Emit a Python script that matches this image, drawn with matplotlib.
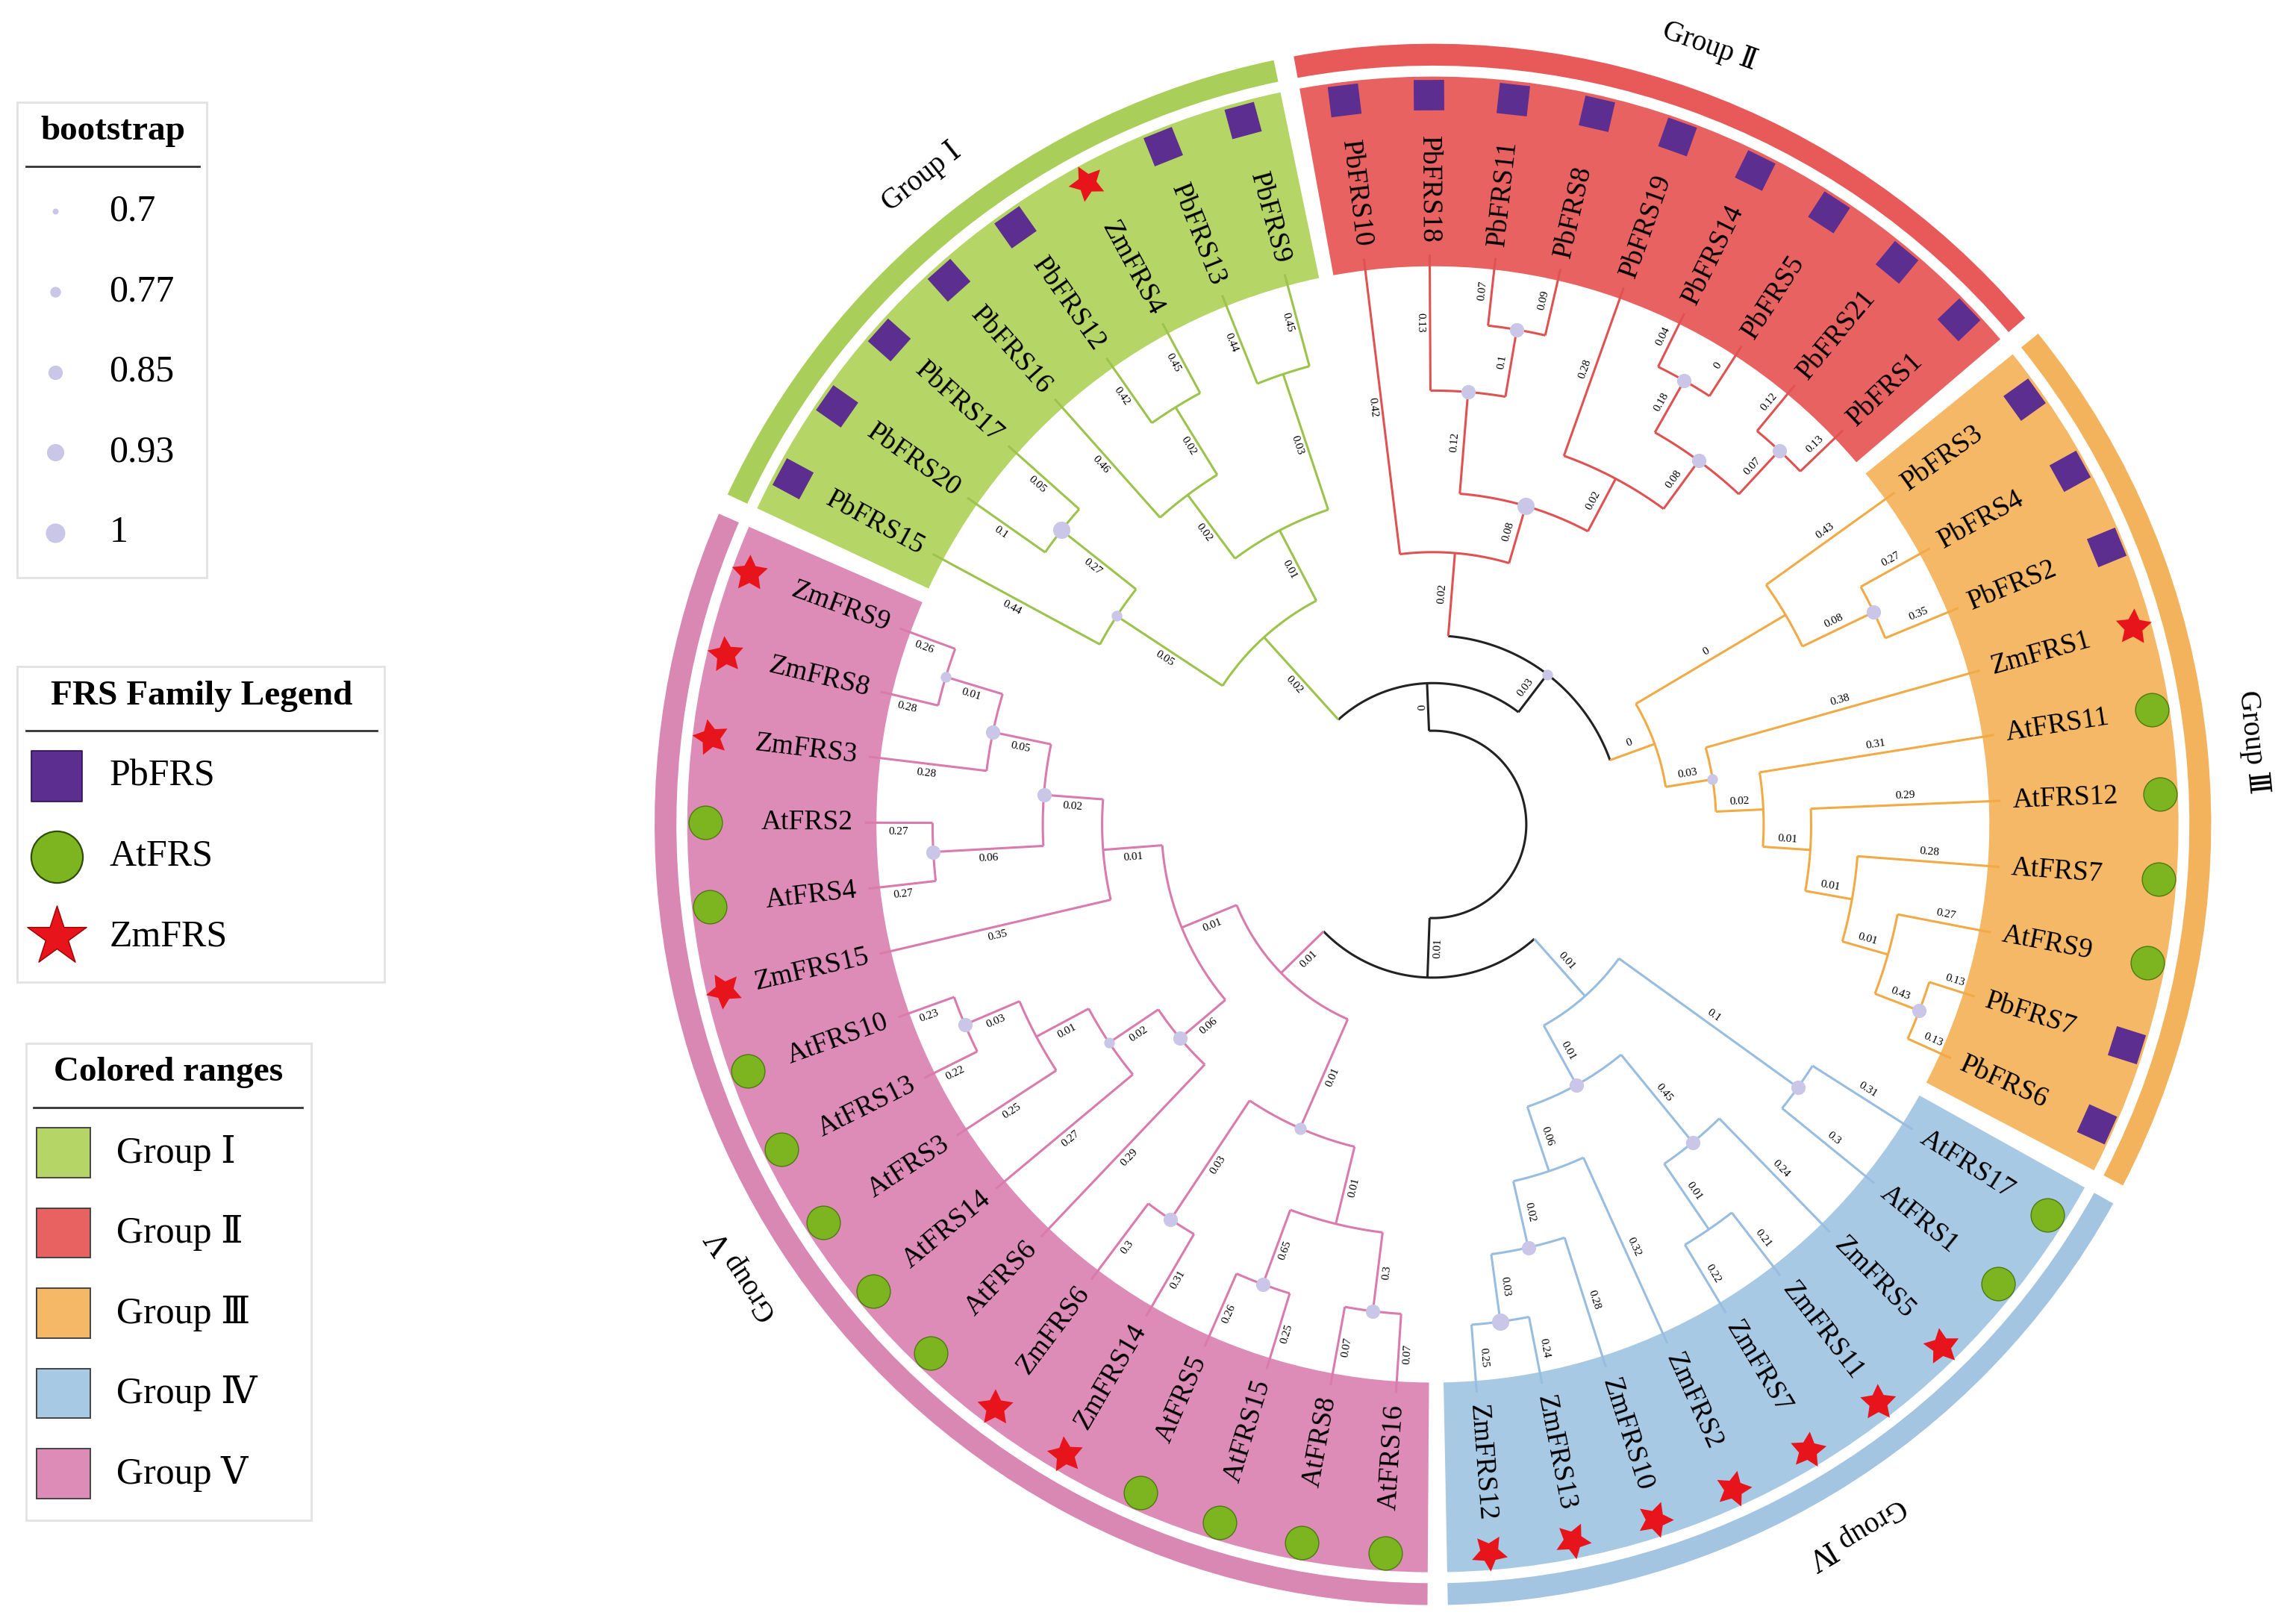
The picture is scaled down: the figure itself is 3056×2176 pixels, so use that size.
import numpy as np
import matplotlib
matplotlib.use('Agg')
import matplotlib.pyplot as plt
from matplotlib.patches import Rectangle, Wedge

SERIF = ['Liberation Serif', 'DejaVu Serif']
plt.rcParams['font.family'] = SERIF

# ---------------- data ----------------
group_names = ['Group Ⅰ', 'Group Ⅱ', 'Group Ⅲ', 'Group Ⅳ', 'Group Ⅴ']
group_leaves = [
    ['PbFRS15', 'PbFRS20', 'PbFRS17', 'PbFRS16', 'PbFRS12', 'ZmFRS4', 'PbFRS13', 'PbFRS9'],
    ['PbFRS10', 'PbFRS18', 'PbFRS11', 'PbFRS8', 'PbFRS19', 'PbFRS14', 'PbFRS5', 'PbFRS21', 'PbFRS1'],
    ['PbFRS3', 'PbFRS4', 'PbFRS2', 'ZmFRS1', 'AtFRS11', 'AtFRS12', 'AtFRS7', 'AtFRS9', 'PbFRS7', 'PbFRS6'],
    ['AtFRS17', 'AtFRS1', 'ZmFRS5', 'ZmFRS11', 'ZmFRS7', 'ZmFRS2', 'ZmFRS10', 'ZmFRS13', 'ZmFRS12'],
    ['AtFRS16', 'AtFRS8', 'AtFRS15', 'AtFRS5', 'ZmFRS14', 'ZmFRS6', 'AtFRS6', 'AtFRS14',
     'AtFRS3', 'AtFRS13', 'AtFRS10', 'ZmFRS15', 'AtFRS4', 'AtFRS2', 'ZmFRS3', 'ZmFRS8', 'ZmFRS9'],
]

sector_colors = ['#b5d566', '#e96262', '#f5b866', '#a8c9e4', '#dd8cb8']
ring_colors = ['#a9cf5a', '#e85a5a', '#f3b25c', '#a3c5e2', '#d987b3']
line_colors = {0: '#9cc34c', 1: '#e05252', 2: '#f1aa45', 3: '#98bde0', 4: '#d97bad', None: '#222222'}

# tree: leaf = (name, branch label); internal = ([children], branch label, bootstrap)
GI = ([([('PbFRS15', .44), ([('PbFRS20', .1), ('PbFRS17', .05)], .27, 0.93)], .05, 0.77),
       ([([('PbFRS16', .46), ([('PbFRS12', .42), ('ZmFRS4', .45)], .02, None)], .02, None),
         ([('PbFRS13', .44), ('PbFRS9', .45)], .03, None)], .01, None)], .02, None)
GII = ([('PbFRS10', .42),
        ([([('PbFRS18', .13), ([('PbFRS11', .07), ('PbFRS8', .09)], .1, 0.85)], .12, 0.85),
          ([('PbFRS19', .28),
            ([([('PbFRS14', .04), ('PbFRS5', 0)], .18, 0.85),
              ([('PbFRS21', .12), ('PbFRS1', .13)], .07, 0.85)], .08, 0.85)], .02, None)], .08, 0.93)],
       .02, None)
GIII = ([([('PbFRS3', .43), ([('PbFRS4', .27), ('PbFRS2', .35)], .08, 0.85)], .0, None),
         ([('ZmFRS1', .38),
           ([('AtFRS11', .31),
             ([('AtFRS12', .29),
               ([('AtFRS7', .28),
                 ([('AtFRS9', .27), ([('PbFRS7', .13), ('PbFRS6', .13)], .43, 0.85)], .01, None)],
                .01, None)], .01, None)], .02, None)], .03, 0.77)], .0, None)
GIV = ([([('AtFRS17', .31), ('AtFRS1', .3)], .1, 0.85),
        ([([('ZmFRS5', .24), ([('ZmFRS11', .21), ('ZmFRS7', .22)], .01, None)], .45, 0.85),
          ([('ZmFRS2', .32), ([('ZmFRS10', .28), ([('ZmFRS13', .24), ('ZmFRS12', .25)], .03, 0.93)],
                               .02, 0.85)], .06, None)], .01, 0.85)], .01, None)
V_up = ([([([([('ZmFRS9', .26), ('ZmFRS8', .28)], .01, 0.77), ('ZmFRS3', .28)], .05, 0.85),
           ([('AtFRS2', .27), ('AtFRS4', .27)], .06, 0.85)], .02, 0.85), ('ZmFRS15', .35)], .01, None)
V_mid = ([([([([('AtFRS10', .23), ('AtFRS13', .22)], .03, 0.85), ('AtFRS3', .25)], .01, None),
            ('AtFRS14', .27)], .02, 0.77), ('AtFRS6', .29)], .06, 0.85)
V_low = ([([('ZmFRS6', .3), ('ZmFRS14', .31)], .03, 0.85),
          ([([('AtFRS5', .26), ('AtFRS15', .25)], .65, 0.85),
            ([('AtFRS8', .07), ('AtFRS16', .07)], .3, 0.85)], .01, None)], .01, 0.8)
GV = ([([V_up, V_mid], .01, None), V_low], .01, None)
TOP = ([GI, ([GII, GIII], .03, 0.77)], 0, None)
BOTTOM = ([GIV, GV], .01, None)
TREE = ([TOP, BOTTOM], 0, None)

boot_levels = [0.7, 0.77, 0.85, 0.93, 1]
family_names = ['PbFRS', 'AtFRS', 'ZmFRS']

# ---------------- geometry ----------------
STEP, GAP, START = 6.65, 1.5, 155.0
leaf_angle, leaf_group = {}, {}
a = START
group_span = []
for gi, leaves in enumerate(group_leaves):
    a0 = a
    for nm in leaves:
        leaf_angle[nm] = a - STEP / 2
        leaf_group[nm] = gi
        a -= STEP
    group_span.append((a, a0))
    a -= GAP

R0, R_TIP, R_LAB, R_MARK = 0.12, 0.73, 0.745, 0.935


def prep(node):
    if isinstance(node[0], str):
        nm = node[0]
        return dict(leaf=nm, len=node[1], a=leaf_angle[nm], h=0, grp=leaf_group[nm], boot=None)
    kids = [prep(c) for c in node[0]]
    angs = [k['a'] for k in kids]
    grps = set(k['grp'] for k in kids)
    return dict(kids=kids, len=node[1], boot=node[2], a=(min(angs) + max(angs)) / 2,
                h=1 + max(k['h'] for k in kids), grp=grps.pop() if len(grps) == 1 else None)


def place(d, depth):
    if 'leaf' in d:
        d['r'] = R_TIP
    else:
        d['r'] = R0 + (R_TIP - R0) * depth / (depth + d['h'])
        for k in d['kids']:
            place(k, depth + 1)


root = prep(TREE)
place(root, 0)

W, H = 3056, 2176
fig = plt.figure(figsize=(W / 200, H / 200), dpi=200)
cx, cy, RD = 985 / 1568, 1 - 565 / 1113, 535
wf = 2.2 * RD / 1568
hf = 2.2 * RD / 1113
ax = fig.add_axes([cx - wf / 2, cy - hf / 2, wf, hf])
ax.set_xlim(-1.1, 1.1)
ax.set_ylim(-1.1, 1.1)
ax.axis('off')

def pol(r, ang):
    t = np.deg2rad(ang)
    return r * np.cos(t), r * np.sin(t)

for gi, (a1, a2) in enumerate(group_span):
    ax.add_patch(Wedge((0, 0), 0.958, a1, a2, width=0.958 - 0.715, facecolor=sector_colors[gi],
                       edgecolor='none', zorder=0))
    ax.add_patch(Wedge((0, 0), 1.0, a1, a2, width=0.028, facecolor=ring_colors[gi],
                       edgecolor='none', zorder=0))
    mid = (a1 + a2) / 2
    x, y = pol(1.058, mid)
    ax.text(x, y, group_names[gi], rotation=mid - 90, ha='center', va='center',
            fontsize=14, rotation_mode='anchor')

def flip(ang):
    a = (ang + 180) % 360 - 180
    if -90 <= a <= 90:
        return a, False
    return a - 180, True

boots = []

def draw(d):
    if 'leaf' in d:
        return
    angs = [k['a'] for k in d['kids']]
    tt = np.linspace(min(angs), max(angs), 120)
    x, y = pol(d['r'], tt)
    ax.plot(x, y, color=line_colors[d['grp']], lw=1.1, zorder=2, solid_capstyle='butt')
    for k in d['kids']:
        x, y = pol(np.array([d['r'], k['r']]), k['a'])
        ax.plot(x, y, color=line_colors[k['grp']], lw=1.1, zorder=2, solid_capstyle='butt')
        rm = (d['r'] + k['r']) / 2
        rot, fl = flip(k['a'])
        off = 0.012
        t = np.deg2rad(k['a'])
        lx = rm * np.cos(t) - off * np.sin(t)
        ly = rm * np.sin(t) + off * np.cos(t)
        ax.text(lx, ly, f"{k['len']:g}", rotation=rot, ha='center', va='center',
                fontsize=5.5, rotation_mode='anchor', zorder=3)
        draw(k)
    if d['boot'] is not None:
        boots.append((d['r'], d['a'], d['boot']))

draw(root)

def bsize(b):
    return 8 + (b - 0.7) / 0.3 * 80

for r, a_, b in boots:
    x, y = pol(r, a_)
    ax.scatter([x], [y], s=bsize(b), color='#c9c6e8', zorder=4, linewidths=0)

for nm, ang in leaf_angle.items():
    rot, fl = flip(ang)
    x, y = pol(R_LAB, ang)
    ax.text(x, y, nm, rotation=rot, ha='right' if fl else 'left', va='center',
            fontsize=13.5, rotation_mode='anchor', zorder=5)
    mx, my = pol(R_MARK, ang)
    if nm.startswith('Pb'):
        ax.scatter([mx], [my], marker=(4, 0, ang + 45), s=430, color='#5c2e8f', zorder=5, linewidths=0)
    elif nm.startswith('At'):
        ax.scatter([mx], [my], marker='o', s=260, color='#7cb51f', edgecolors='#4d7a10', linewidths=0.5, zorder=5)
    else:
        ax.scatter([mx], [my], marker=(5, 1, ang - 90), s=330, color='#e8141c', zorder=5, linewidths=0)

# ---------------- legends ----------------
lg = fig.add_axes([0, 0, 1, 1])
lg.set_xlim(0, 1568)
lg.set_ylim(1113, 0)
lg.axis('off')
lg.patch.set_visible(False)

def box(x0, y0, x1, y1, title, ty, ly0, ly1, ly):
    lg.add_patch(Rectangle((x0, y0), x1 - x0, y1 - y0, facecolor='white', edgecolor='#e2e2e2', lw=1))
    lg.text((ly0 + ly1) / 2, ty, title, ha='center', va='center', fontsize=17, fontweight='bold')
    lg.plot([ly0, ly1], [ly, ly], color='#333333', lw=1)

box(12, 70, 142, 396, 'bootstrap', 90, 18, 137, 114)
for i, b in enumerate(boot_levels):
    y = 145 + i * 55
    lg.scatter([38], [y], s=bsize(b), color='#c9c6e8', linewidths=0)
    lg.text(75, y, f'{b:g}', va='center', fontsize=18)

box(12, 457, 264, 673, 'FRS Family Legend', 477, 18, 259, 501)
fam_y = [532, 587, 642]
lg.scatter([39], [fam_y[0]], marker='s', s=600, color='#5c2e8f', edgecolors='#2a1050', linewidths=0.6)
lg.scatter([39], [fam_y[1]], marker='o', s=620, color='#7cb51f', edgecolors='#2f4d08', linewidths=0.8)
lg.scatter([39], [fam_y[2]], marker='*', s=900, color='#e8141c', edgecolors='#900', linewidths=0.5)
for nm, y in zip(family_names, fam_y):
    lg.text(75, y, nm, va='center', fontsize=18)

box(18, 715, 214, 1042, 'Colored ranges', 735, 23, 208, 759)
for i, nm in enumerate(group_names):
    y = 790 + i * 55
    lg.add_patch(Rectangle((25, y - 17), 37, 34, facecolor=sector_colors[i], edgecolor='#444444', lw=0.7))
    lg.text(80, y, nm, va='center', fontsize=18)

fig.savefig('out.png', dpi=200, facecolor='white')
